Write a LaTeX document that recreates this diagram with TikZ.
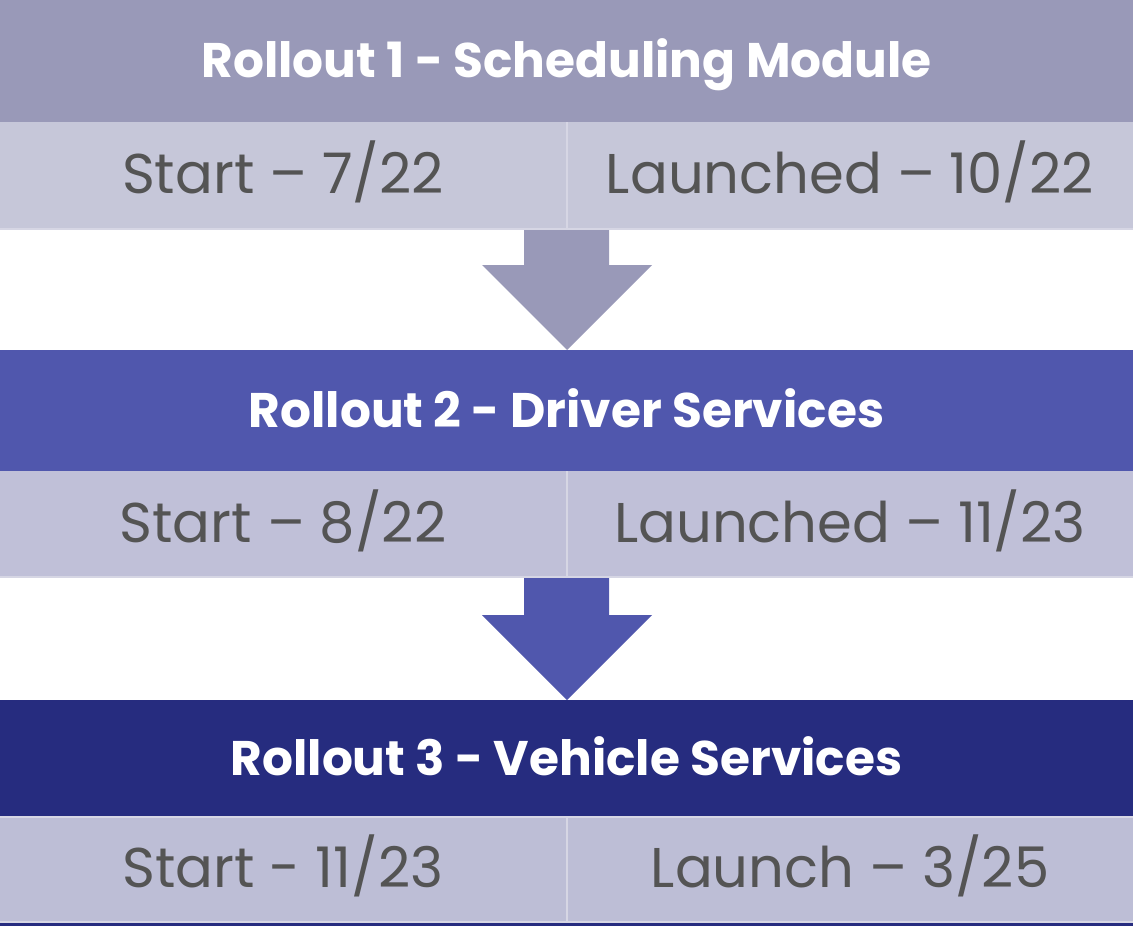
\documentclass[tikz,border=0pt]{standalone}
\usepackage{fontspec}
\setmainfont{Poppins}
\definecolor{hdA}{HTML}{9999B8}
\definecolor{hdB}{HTML}{5057AD}
\definecolor{hdC}{HTML}{262C7F}
\definecolor{rwA}{HTML}{C6C7D9}
\definecolor{rwB}{HTML}{C0C0D8}
\definecolor{rwC}{HTML}{BDBED6}
\definecolor{sep}{HTML}{D6D6E4}
\definecolor{txt}{HTML}{545454}
\tikzset{
  hdtext/.style={text=white,font=\fontsize{48.6}{52}\selectfont\bfseries,inner sep=0pt,anchor=base},
  rwtext/.style={text=txt,font=\fontsize{56}{60}\selectfont,inner sep=0pt,anchor=base},
  sepline/.style={draw=sep,line width=2pt},
}
\begin{document}
\begin{tikzpicture}[x=1pt,y=-1pt]
\useasboundingbox (0,0) rectangle (1133,926);
% block 1
\fill[hdA] (0,0) rectangle (1133,122);
\fill[rwA] (0,122) rectangle (1133,229);
\draw[sepline] (0,229) -- (1133,229);
\draw[sepline] (566.5,122) -- (566.5,229);
\node[hdtext] (h1) at (566.5,77) {Rollout 1 - Scheduling Module};
\node[rwtext] (s1) at (283,193) {Start – 7/22};
\node[rwtext] (l1) at (850,193) {Launched – 10/22};
% arrow 1
\fill[hdA] (524,230) -- (609,230) -- (609,265) -- (652,265) -- (567,350) -- (482,265) -- (524,265) -- cycle;
% block 2
\fill[hdB] (0,350) rectangle (1133,471);
\fill[rwB] (0,471) rectangle (1133,577);
\draw[sepline] (0,577) -- (1133,577);
\draw[sepline] (566.5,471) -- (566.5,577);
\node[hdtext] (h2) at (566.5,427) {Rollout 2 - Driver Services};
\node[rwtext] (s2) at (283,542) {Start – 8/22};
\node[rwtext] (l2) at (850,542) {Launched – 11/23};
% arrow 2
\fill[hdB] (524,578) -- (609,578) -- (609,615) -- (652,615) -- (567,700) -- (482,615) -- (524,615) -- cycle;
% block 3
\fill[hdC] (0,700) rectangle (1133,816);
\fill[rwC] (0,816) rectangle (1133,922);
\draw[sepline] (0,817) -- (1133,817);
\draw[sepline] (0,922) -- (1133,922);
\fill[hdC] (0,923) rectangle (1133,926);
\draw[sepline] (566.5,816) -- (566.5,922);
\node[hdtext] (h3) at (566.5,775) {Rollout 3 - Vehicle Services};
\node[rwtext] (s3) at (283,887) {Start - 11/23};
\node[rwtext] (l3) at (850,887) {Launch – 3/25};
\end{tikzpicture}
\end{document}
